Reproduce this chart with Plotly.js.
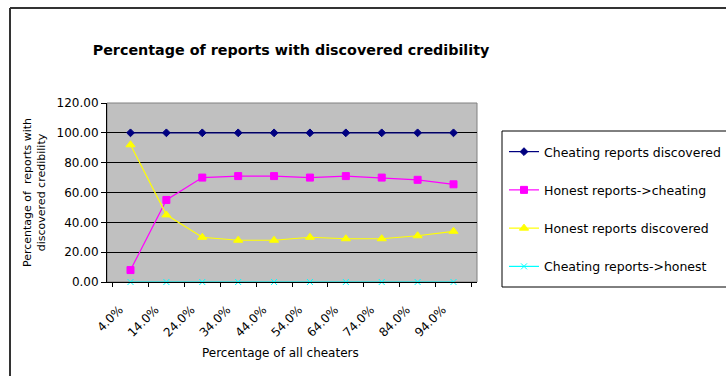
<!DOCTYPE html>
<html>
<head>
<meta charset="utf-8">
<script src="https://cdn.plot.ly/plotly-3.0.1.min.js"></script>
<style>html,body{margin:0;padding:0;background:#fff;overflow:hidden;width:726px;height:376px;}#chart{width:726px;height:376px;overflow:hidden;}</style>
</head>
<body>
<div id="chart"></div>
<script>
const categories = ["4.0%","14.0%","24.0%","34.0%","44.0%","54.0%","64.0%","74.0%","84.0%","94.0%"];
const cheatingDiscovered = [100,100,100,100,100,100,100,100,100,100];
const honestToCheating = [8,55,70,71,71,70,71,70,68.5,65.5];
const honestDiscovered = [92,45,30,28,28,30,29,29,31,34];
const cheatingToHonest = [0,0,0,0,0,0,0,0,0,0];
const yTicks = [0,20,40,60,80,100,120];

const font = '"DejaVu Sans", Arial, sans-serif';
function tr(name, y, color, symbol, size, g) {
  return {type:'scatter', mode:'lines+markers', name:name, x:categories, y:y,
    legendgroup:g, cliponaxis:false,
    line:{color:color, width:1.2},
    marker:{color:color, symbol:symbol, size:size, line:{color:color, width:1}}};
}
const data = [
  tr('Cheating reports discovered', cheatingDiscovered, '#000080', 'diamond', 6, 'a'),
  tr('Honest reports->cheating', honestToCheating, '#FF00FF', 'square', 7, 'b'),
  tr('Honest reports discovered', honestDiscovered, '#FFFF00', 'triangle-up', 8, 'c'),
  tr('Cheating reports->honest', cheatingToHonest, '#00FFFF', 'x-thin-open', 6, 'd')
];
const L = 107, T = 103, W = 370, H = 179;
const px = v => (v - L) / W;
const py = v => (T + H - v) / H;
const layout = {
  width:726, height:376,
  margin:{l:107, r:249, t:103, b:94, autoexpand:false},
  paper_bgcolor:'#ffffff', plot_bgcolor:'#C0C0C0',
  font:{family:font, size:12, color:'#000'},
  showlegend:true,
  title:{text:'<b>Percentage of reports with discovered credibility</b>', font:{family:font, size:14.3, color:'#000'},
    x:291/726, xanchor:'center', y:1-50/376, yanchor:'middle'},
  xaxis:{type:'category', tickson:'boundaries', ticks:'outside', ticklen:4, tickcolor:'#000',
    showline:true, linecolor:'#000', linewidth:1, showgrid:false, tickangle:-45,
    ticklabelshift:-11, ticklabelstandoff:15,
    tickfont:{family:font, size:12}, automargin:false},
  yaxis:{range:[0,120], tickvals:yTicks, tickformat:'.2f', ticks:'outside', ticklen:5, tickcolor:'#000',
    showline:true, linecolor:'#000', linewidth:1, showgrid:true, gridcolor:'#000', gridwidth:1,
    zeroline:false, tickfont:{family:font, size:12}, automargin:false,
    title:{text:'Percentage of  reports with<br>discovered credibility', font:{family:font, size:11}, standoff:8}},
  legend:{x:px(504), xanchor:'left', y:py(137), yanchor:'top',
    bgcolor:'rgba(0,0,0,0)', borderwidth:0, font:{family:font, size:12.5},
    traceorder:'grouped', tracegroupgap:19},
  annotations:[
    {text:'Percentage of all cheaters', xref:'paper', yref:'paper', x:px(280), y:py(353),
     xanchor:'center', yanchor:'middle', showarrow:false, font:{family:font, size:12}}
  ],
  shapes:[
    {type:'rect', xref:'paper', yref:'paper', x0:0, x1:1, y0:0, y1:1, line:{color:'#808080', width:1}, layer:'below'},
    {type:'line', xref:'paper', yref:'paper', x0:px(502), x1:px(502), y0:py(287), y1:py(131), line:{color:'#000', width:1}},
    {type:'line', xref:'paper', yref:'paper', x0:px(502), x1:px(726), y0:py(131), y1:py(131), line:{color:'#000', width:1}},
    {type:'line', xref:'paper', yref:'paper', x0:px(502), x1:px(726), y0:py(287), y1:py(287), line:{color:'#000', width:1}},
    {type:'line', xref:'paper', yref:'paper', x0:px(10), x1:px(10), y0:py(8), y1:py(376), line:{color:'#333', width:2}},
    {type:'line', xref:'paper', yref:'paper', x0:px(10), x1:px(726), y0:py(8), y1:py(8), line:{color:'#333', width:2}}
  ]
};
Plotly.newPlot('chart', data, layout, {displayModeBar:false, staticPlot:true});
</script>
</body>
</html>
